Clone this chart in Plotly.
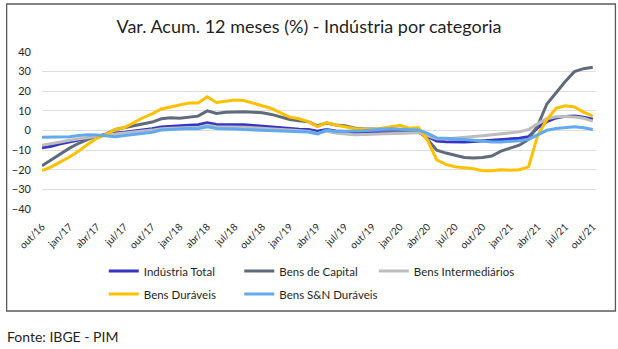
import plotly.graph_objects as go

# Monthly labels, out/16 .. out/21
month_abbr = ["jan", "fev", "mar", "abr", "mai", "jun", "jul", "ago", "set", "out", "nov", "dez"]
months = []
y, m = 2016, 9
while (y, m) <= (2021, 9):
    months.append(f"{month_abbr[m]}/{str(y)[2:]}")
    m += 1
    if m == 12:
        m, y = 0, y + 1

tick_labels = months[::3]

industria_total = [
    -8.8, -8.0, -6.8, -5.8, -4.6, -3.8, -2.9, -2.1, -1.3, -0.9, -0.3, 0.2, 0.9, 1.8, 2.2, 2.5,
    2.7, 2.9, 3.9, 3.1, 3.1, 3.1, 2.9, 2.6, 2.2, 1.9, 1.4, 0.9, 0.6, 0.5, -0.4, 0.5, -0.2,
    -0.5, -1.1, -1.2, -1.1, -0.9, -1.1, -1.1, -0.9, -0.9, -3.0, -5.4, -5.7, -5.8, -5.8, -5.6,
    -5.3, -5.0, -4.6, -4.3, -4.0, -3.2, 1.4, 4.5, 6.4, 7.2, 7.4, 6.8, 5.7,
]
bens_capital = [
    -18.0, -15.0, -12.0, -9.0, -6.5, -4.5, -3.0, -1.7, 0.5, 1.4, 2.5, 3.2, 4.3, 6.0, 6.5, 6.2,
    6.8, 7.3, 10.0, 8.7, 9.3, 9.5, 9.5, 9.3, 9.0, 8.2, 6.8, 5.6, 5.0, 4.5, 2.4, 3.8, 2.8,
    2.4, 1.3, 0.8, 0.8, 0.6, 0.5, 0.3, 0.2, 0.0, -4.5, -10.0, -11.5, -12.5, -13.7, -14.0,
    -13.8, -13.0, -10.5, -9.0, -7.5, -4.5, 2.5, 13.5, 19.5, 25.0, 30.0, 31.5, 32.2,
]
bens_intermediarios = [
    -7.5, -6.8, -5.9, -5.0, -4.2, -3.4, -2.9, -2.3, -1.8, -1.3, -0.9, -0.5, 0.2, 0.9, 1.2, 1.4,
    1.5, 1.5, 2.6, 1.9, 1.9, 1.9, 1.7, 1.4, 1.0, 0.8, 0.5, 0.2, -0.2, -0.4, -1.5, -0.4, -1.3,
    -1.6, -2.2, -2.1, -2.0, -1.6, -1.6, -1.5, -1.3, -1.1, -2.8, -4.2, -4.3, -4.0, -3.5, -3.1,
    -2.7, -2.2, -1.7, -1.2, -0.7, 0.5, 3.5, 6.0, 7.0, 7.1, 6.9, 6.2, 4.8,
]
bens_duraveis = [
    -20.5, -18.5, -16.0, -13.5, -10.5, -7.0, -4.0, -2.0, 0.5, 1.5, 4.0, 6.5, 8.5, 11.0, 12.0, 13.0,
    14.0, 14.0, 17.2, 14.3, 14.8, 15.5, 15.3, 14.0, 12.8, 11.2, 9.0, 6.8, 6.0, 4.5, 2.0, 4.0, 2.8,
    1.8, 1.0, 0.7, 0.5, 1.2, 2.0, 2.6, 1.2, 1.5, -5.0, -15.0, -17.3, -18.5, -19.0, -19.5,
    -20.5, -20.5, -20.0, -20.2, -20.0, -18.5, -2.5, 5.5, 11.3, 12.6, 12.0, 9.4, 7.3,
]
bens_sn_duraveis = [
    -3.5, -3.4, -3.3, -3.2, -2.6, -2.2, -2.3, -2.8, -3.2, -2.6, -2.1, -1.7, -0.9, 0.2, 0.5, 0.8,
    1.0, 0.9, 1.9, 1.0, 1.0, 0.8, 0.5, 0.3, 0.0, -0.2, -0.4, -0.5, -0.7, -0.8, -1.7, 0.2, -0.5,
    -0.4, -0.3, -0.1, 0.3, 0.8, 0.9, 0.8, 0.6, 0.3, -1.5, -3.8, -3.9, -4.1, -4.6, -5.0,
    -5.5, -5.8, -5.8, -5.6, -5.2, -4.5, -2.2, 0.1, 1.0, 1.4, 1.9, 1.4, 0.5,
]

FONT = "Lato"
TEXT = "#1f1f1f"

# plot area: l=40, width=556, t=52, height=157
L, T, W, H = 40, 52, 556, 157


def px_x(px):
    return (px - L) / W


def px_y(px):
    return (T + H - px) / H


# name, values, colour, legend key, legend position (px)
series = [
    ("Indústria Total", industria_total, "#3535c4", "legend", (102, 271)),
    ("Bens de Capital", bens_capital, "#5f6b7b", "legend2", (238, 271)),
    ("Bens Intermediários", bens_intermediarios, "#bdbdbd", "legend3", (373, 271)),
    ("Bens Duráveis", bens_duraveis, "#ffc000", "legend4", (102, 294)),
    ("Bens S&N Duráveis", bens_sn_duraveis, "#62a9ee", "legend5", (238, 294)),
]

fig = go.Figure()
legends = {}
for name, values, color, leg, (lx, ly) in series:
    fig.add_trace(go.Scatter(
        x=months, y=values, name=name, mode="lines",
        line=dict(color=color, width=3), legend=leg, showlegend=True,
    ))
    legends[leg] = dict(
        orientation="h", x=px_x(lx), y=px_y(ly), xanchor="left", yanchor="middle",
        font=dict(size=11.5, family=FONT, color=TEXT), bgcolor="rgba(0,0,0,0)",
        visible=True,
    )

fig.update_layout(
    width=618, height=349, showlegend=True,
    margin=dict(l=L, r=618 - L - W, t=T, b=349 - T - H),
    paper_bgcolor="white", plot_bgcolor="white",
    font=dict(family=FONT, color=TEXT),
    title=dict(
        text="Var. Acum. 12 meses (%) - Indústria por categoria",
        x=0.5, xref="container", xanchor="center",
        y=1 - 27 / 349, yref="container", yanchor="middle",
        font=dict(size=18, family=FONT, color=TEXT),
    ),
    xaxis=dict(
        type="category", categoryorder="array", categoryarray=months,
        range=[0, 60.35], tickvals=tick_labels, ticktext=tick_labels,
        tickangle=-45, tickfont=dict(size=10, color=TEXT), ticklabelstandoff=9,
        showgrid=False, showline=False, zeroline=False, ticks="",
    ),
    yaxis=dict(
        range=[-40, 40], tickvals=list(range(-40, 41, 10)),
        tickfont=dict(size=11, color=TEXT), ticklabelstandoff=10,
        showgrid=True, gridcolor="#dedede", gridwidth=1,
        zeroline=False, showline=False, ticks="", ticklen=0,
    ),
    shapes=[dict(
        type="rect", xref="paper", yref="paper",
        x0=px_x(4.5), x1=px_x(615.5), y0=px_y(311), y1=px_y(4),
        line=dict(color="#5a5a5a", width=1.3), fillcolor="rgba(0,0,0,0)", layer="below",
    )],
    annotations=[dict(
        text="Fonte: IBGE - PIM", xref="paper", yref="paper",
        x=px_x(3), y=px_y(336), xanchor="left", yanchor="middle",
        showarrow=False, font=dict(size=14, family=FONT, color=TEXT),
    )],
    **legends,
)

fig.write_html("out.html")
